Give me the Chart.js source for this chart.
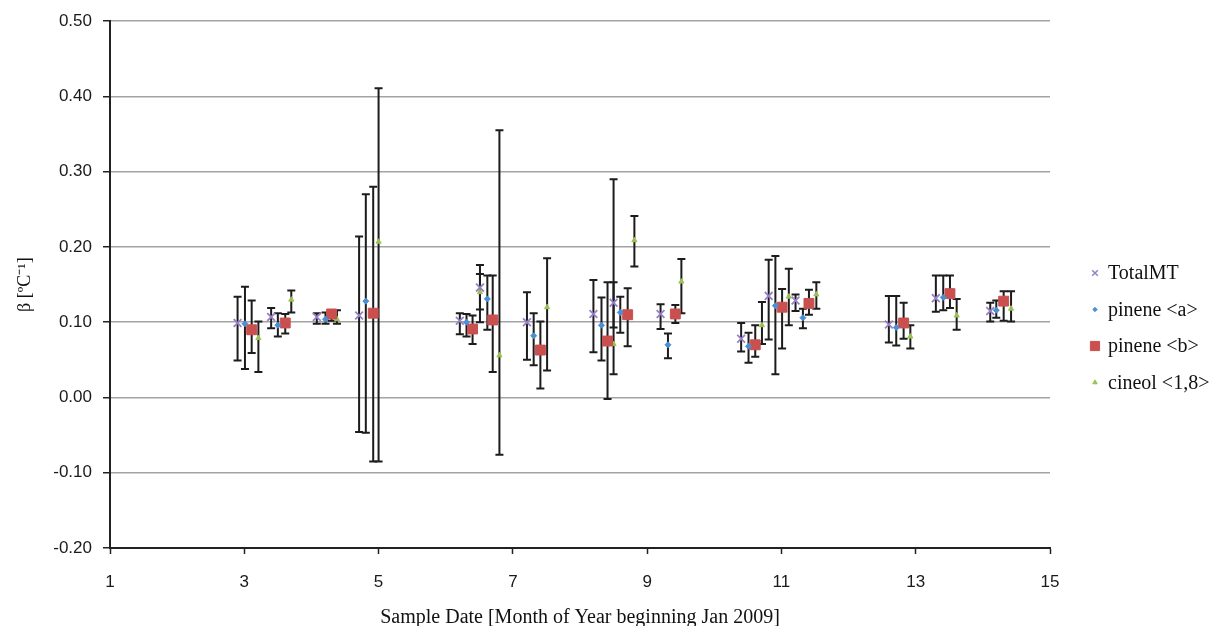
<!DOCTYPE html>
<html>
<head>
<meta charset="utf-8">
<title>Temperature coefficient by sample date</title>
<script src="https://cdn.jsdelivr.net/npm/chart.js@4/dist/chart.umd.min.js"></script>
<style>
  html, body { margin: 0; padding: 0; background: #fff; }
  #wrap { width: 1222px; height: 626px; }
</style>
</head>
<body>
<div id="wrap"><canvas id="beta-chart" width="1222" height="626"></canvas></div>
<script>
// sample dates (month of year, Jan 2009 = 1), beta values and error limits
const seriesNames = ['TotalMT', 'pinene <a>', 'pinene <b>', 'cineol <1,8>'];

const totalX  = [2.90, 3.40, 4.08, 4.71, 6.21, 6.51, 7.21, 8.20, 8.50, 9.20, 10.40, 10.81, 11.21, 12.60, 13.30, 14.11];
const totalY  = [0.099, 0.107, 0.107, 0.109, 0.102, 0.146, 0.100, 0.111, 0.126, 0.111, 0.078, 0.135, 0.129, 0.097, 0.132, 0.115];
const totalLo = [0.049, 0.092, 0.098, -0.046, 0.084, 0.100, 0.050, 0.060, 0.093, 0.091, 0.061, 0.077, 0.115, 0.073, 0.114, 0.101];
const totalHi = [0.134, 0.119, 0.112, 0.214, 0.112, 0.176, 0.140, 0.156, 0.290, 0.124, 0.099, 0.183, 0.137, 0.135, 0.162, 0.126];

const pinAX  = [3.01, 3.50, 4.21, 4.81, 6.31, 6.62, 7.31, 8.32, 8.60, 9.31, 10.51, 10.91, 11.32, 12.71, 13.41, 14.20];
const pinAY  = [0.098, 0.096, 0.104, 0.128, 0.100, 0.131, 0.082, 0.096, 0.113, 0.070, 0.068, 0.122, 0.106, 0.093, 0.133, 0.116];
const pinALo = [0.038, 0.081, 0.098, -0.047, 0.081, 0.090, 0.043, 0.049, 0.086, 0.052, 0.046, 0.031, 0.092, 0.069, 0.116, 0.106];
const pinAHi = [0.147, 0.112, 0.113, 0.270, 0.111, 0.162, 0.112, 0.133, 0.134, 0.085, 0.086, 0.188, 0.118, 0.135, 0.162, 0.129];

const pinBX  = [3.11, 3.61, 4.30, 4.92, 6.40, 6.70, 7.41, 8.41, 8.71, 9.42, 10.61, 11.01, 11.41, 12.82, 13.51, 14.31];
const pinBY  = [0.090, 0.099, 0.111, 0.112, 0.091, 0.103, 0.063, 0.075, 0.110, 0.111, 0.070, 0.120, 0.125, 0.099, 0.138, 0.128];
const pinBLo = [0.059, 0.085, 0.102, -0.085, 0.071, 0.034, 0.012, -0.002, 0.068, 0.099, 0.054, 0.065, 0.110, 0.078, 0.119, 0.102];
const pinBHi = [0.129, 0.111, 0.116, 0.280, 0.109, 0.162, 0.101, 0.153, 0.145, 0.123, 0.096, 0.144, 0.143, 0.126, 0.162, 0.141];

const cinX  = [3.21, 3.70, 4.38, 5.00, 6.51, 6.80, 7.51, 8.50, 8.81, 9.51, 10.71, 11.11, 11.52, 12.92, 13.61, 14.42];
const cinY  = [0.079, 0.130, 0.104, 0.207, 0.140, 0.056, 0.120, 0.071, 0.209, 0.154, 0.096, 0.134, 0.137, 0.081, 0.109, 0.118];
const cinLo = [0.034, 0.113, 0.098, -0.085, 0.117, -0.076, 0.036, 0.031, 0.174, 0.112, 0.071, 0.096, 0.118, 0.065, 0.090, 0.101];
const cinHi = [0.101, 0.142, 0.116, 0.411, 0.164, 0.355, 0.185, 0.153, 0.241, 0.184, 0.127, 0.171, 0.153, 0.096, 0.131, 0.141];

const xTicks = [1, 3, 5, 7, 9, 11, 13, 15];
const yTicks = [-0.20, -0.10, 0.00, 0.10, 0.20, 0.30, 0.40, 0.50];

function toPoints(xs, ys, lo, hi) {
    return xs.map((x, i) => ({ x: x, y: ys[i], yMin: lo[i], yMax: hi[i] }));
}

// vertical error bars with caps, drawn underneath the markers
const errorBars = {
    id: 'errorBars',
    beforeDatasetsDraw(chart) {
        const { ctx, scales: { x, y } } = chart;
        ctx.save();
        ctx.strokeStyle = '#1c1c1c';
        ctx.lineWidth = 2;
        chart.data.datasets.forEach(ds => {
            ds.data.forEach(p => {
                const px = x.getPixelForValue(p.x);
                const top = y.getPixelForValue(p.yMax);
                const bot = y.getPixelForValue(p.yMin);
                ctx.beginPath();
                ctx.moveTo(px, top);
                ctx.lineTo(px, bot);
                ctx.moveTo(px - 4, top);
                ctx.lineTo(px + 4, top);
                ctx.moveTo(px - 4, bot);
                ctx.lineTo(px + 4, bot);
                ctx.stroke();
            });
        });
        ctx.restore();
    }
};

// legend on the right, one row per series
const sideLegend = {
    id: 'sideLegend',
    afterDraw(chart) {
        const ctx = chart.ctx;
        const sizes = [4, 2.2, 6.5, 2.6];
        ctx.save();
        chart.data.datasets.forEach((ds, i) => {
            const rowY = 273 + i * 36.5;
            ctx.fillStyle = ds.backgroundColor;
            ctx.strokeStyle = ds.borderColor;
            ctx.lineWidth = i === 0 ? 1.5 : 1;
            Chart.helpers.drawPoint(ctx, {
                pointStyle: ds.pointStyle,
                radius: sizes[i],
                rotation: 0,
                borderWidth: ctx.lineWidth
            }, 1095, rowY);
            ctx.fillStyle = '#111';
            ctx.font = '20px "Liberation Serif", "Times New Roman", serif';
            ctx.textAlign = 'left';
            ctx.textBaseline = 'middle';
            ctx.fillText(ds.label, 1108, rowY + 1);
        });
        ctx.restore();
    }
};

const ctx = document.getElementById('beta-chart').getContext('2d');
const tickFont = { family: '"Liberation Sans", Arial, sans-serif', size: 17 };

new Chart(ctx, {
    type: 'scatter',
    data: {
        datasets: [
            {
                label: seriesNames[0],
                data: toPoints(totalX, totalY, totalLo, totalHi),
                pointStyle: 'crossRot',
                pointRadius: 5.5,
                borderWidth: 1.8,
                borderColor: '#9781c4',
                backgroundColor: '#9781c4'
            },
            {
                label: seriesNames[1],
                data: toPoints(pinAX, pinAY, pinALo, pinAHi),
                pointStyle: 'rectRot',
                pointRadius: 3,
                borderWidth: 1,
                borderColor: '#4a8fd6',
                backgroundColor: '#4a8fd6'
            },
            {
                label: seriesNames[2],
                data: toPoints(pinBX, pinBY, pinBLo, pinBHi),
                pointStyle: 'rect',
                pointRadius: 7,
                borderWidth: 1,
                borderColor: '#c9504f',
                backgroundColor: '#c9504f'
            },
            {
                label: seriesNames[3],
                data: toPoints(cinX, cinY, cinLo, cinHi),
                pointStyle: 'triangle',
                pointRadius: 3,
                borderWidth: 1,
                borderColor: '#9bc253',
                backgroundColor: '#9bc253'
            }
        ]
    },
    options: {
        responsive: false,
        animation: false,
        layout: { padding: { left: 0, right: 172, top: 20, bottom: 0 } },
        plugins: {
            legend: { display: false },
            tooltip: { enabled: false }
        },
        elements: { point: { hoverRadius: 0 } },
        scales: {
            x: {
                type: 'linear',
                min: xTicks[0],
                max: xTicks[xTicks.length - 1],
                afterFit: scale => { scale.height = 78; },
                afterBuildTicks: scale => { scale.ticks = xTicks.map(v => ({ value: v })); },
                ticks: { font: tickFont, color: '#1a1a1a', padding: 18, maxRotation: 0 },
                grid: { drawOnChartArea: false, tickLength: 6, tickColor: '#222', tickWidth: 1.5 },
                border: { color: '#222', width: 2 },
                title: {
                    display: true,
                    text: 'Sample Date [Month of Year beginning Jan 2009]',
                    font: { family: '"Liberation Serif", "Times New Roman", serif', size: 20 },
                    color: '#111',
                    padding: { top: 0, bottom: -4 }
                }
            },
            y: {
                type: 'linear',
                min: yTicks[0],
                max: yTicks[yTicks.length - 1],
                afterFit: scale => { scale.width = 110; },
                afterBuildTicks: scale => { scale.ticks = yTicks.map(v => ({ value: v })); },
                ticks: {
                    font: tickFont,
                    color: '#1a1a1a',
                    padding: 11,
                    callback: v => Number(v).toFixed(2)
                },
                grid: {
                    color: c => (c.index === 0 ? 'rgba(0,0,0,0)' : '#a3a3a3'),
                    lineWidth: 1.5,
                    tickLength: 7,
                    tickColor: '#222',
                    tickWidth: 1.5
                },
                border: { color: '#222', width: 2 },
                title: {
                    display: true,
                    text: 'β [ºC⁻¹]',
                    font: { family: '"Liberation Serif", "Times New Roman", serif', size: 18 },
                    color: '#111',
                    padding: { top: 14, bottom: 14 }
                }
            }
        }
    },
    plugins: [errorBars, sideLegend]
});
</script>
</body>
</html>
